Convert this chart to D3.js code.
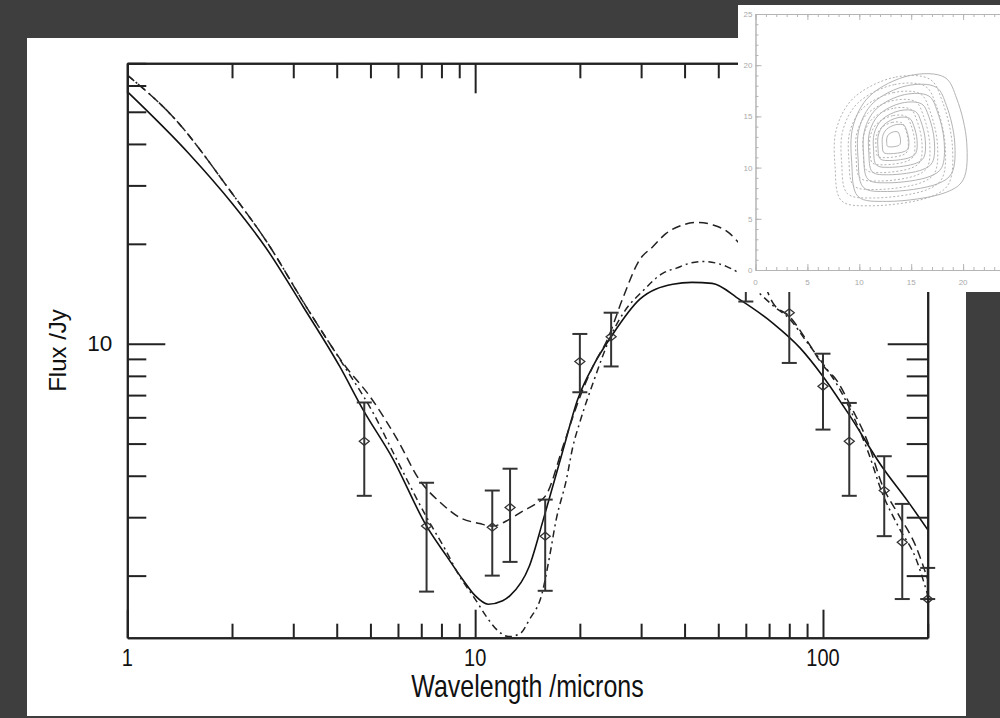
<!DOCTYPE html>
<html>
<head>
<meta charset="utf-8">
<script src="https://cdn.jsdelivr.net/npm/d3@7"></script>
<style>
  body { margin: 0; background: #3e3e3e; }
  svg { display: block; }
  text { font-family: "Liberation Sans", Arial, Helvetica, sans-serif; }
</style>
</head>
<body>
<div id="chart"></div>
<script>
// ---- data ----
// measured points: wavelength (microns), flux (Jy), error bar low / high
const obsLambda = [4.8, 7.25, 11.2, 12.6, 15.9, 20.0, 24.6, 60, 80, 100, 119, 150, 169, 200];
const obsFlux   = [5.08, 2.82, 2.80, 3.21, 2.63, 8.84, 10.5, 15.0, 12.4, 7.44, 5.08, 3.61, 2.52, 1.70];
const obsLow    = [3.48, 1.79, 2.00, 2.20, 1.80, 7.14, 8.54, 13.4, 8.75, 5.51, 3.48, 2.63, 1.70, 1.70];
const obsHigh   = [6.65, 3.81, 3.61, 4.20, 3.39, 10.7, 12.4, 16.8, 15.5, 9.33, 6.63, 4.58, 3.29, 2.11];

// model curves [wavelength, flux]
const modelSolid = [[1,57.5],[1.5,37.5],[2,26.5],[2.5,19.5],[3.2,12.95],[4.08,8.54],[4.76,6.33],[5.8,4.5],
  [7.25,2.82],[8.28,2.29],[9.23,1.94],[10,1.74],[10.9,1.64],[12.0,1.68],[12.6,1.74],[14.3,2.13],[15.7,2.95],
  [17.9,4.79],[19.7,6.78],[22,8.7],[24.6,10.5],[29.7,13.6],[37,15.1],[42,15.3],[48,15.2],[57.5,13.6],
  [72,11.5],[86,9.7],[100,7.97],[119,6.1],[148,4.25],[175,3.36],[200,2.75]];
const modelDashed = [[1,64.5],[1.36,48],[2,28.4],[2.5,20.5],[3.35,12.4],[4.22,8.6],[5,6.9],[6,5.1],[6.9,3.9],
  [8,3.3],[9,3.0],[10.3,2.87],[11.2,2.82],[12.5,2.95],[13.7,3.13],[15,3.3],[16,3.5],[18,5.0],[20,6.9],[22,8.7],
  [24,10.3],[26.5,13.6],[29.7,17.9],[32.4,19.6],[35.4,21.5],[39.6,22.8],[43.6,23.2],[48.3,22.8],[53.9,21.5],
  [56.9,20.3],[65,16.8],[72,13.2],[80,12.1],[90,10.2],[100,8.6],[110,7.7],[120,6.5],[135,5.0],[148,3.75],
  [165,3.05],[185,2.45],[200,1.95]];
const modelDashDot = [[1,64.5],[1.36,48],[2,28.4],[2.5,20.5],[3.35,12.4],[4.22,8.5],[5,6.4],[6,4.4],[7.25,3.0],
  [8.2,2.4],[9,2.0],[10,1.7],[10.8,1.5],[11.5,1.38],[12.5,1.31],[13.5,1.34],[14.3,1.47],[15.6,1.78],[16.3,2.23],
  [17.1,2.95],[18.3,3.9],[19.1,4.9],[20,5.8],[22,7.8],[24.6,10.6],[27,12.6],[30.3,14.4],[34.6,16.3],[37.9,16.9],
  [41.6,17.5],[45.5,17.7],[49.3,17.5],[52.7,17.1],[56.4,16.5],[65.6,14.2],[72,13.0],[80,11.9],[90,10.1],
  [100,8.7],[110,7.5],[120,6.3],[135,4.7],[148,3.55],[165,2.8],[185,2.25],[200,1.75]];

// axis ticks
const xMajorTicks = [1, 10, 100];
const xMinorTicks = [2,3,4,5,6,7,8,9,20,30,40,50,60,70,80,90,200];
const yMajorTicks = [10];
const yMinorTicks = [2,3,4,5,6,7,8,9,20,30,40,50,60,70];

// inset contour map (map units)
const contourOuter = [[18.25,18.8],[14.9,19.0],[11.0,17.0],[9.4,14.05],[9.27,10.5],[9.87,7.19],[12.64,6.7],
  [18.4,7.6],[20.0,8.8],[20.35,12.45],[19.4,16.7]];
const contourCentre = [13.1, 12.75];
const solidLevels = [1, 0.84, 0.7, 0.57, 0.45, 0.34, 0.23, 0.12];
const dottedLevels = [1.02, 0.9, 0.77, 0.64, 0.51, 0.39, 0.28];
const dottedShift = [-1.5, -0.3];
const insetMajorTicks = [0, 5, 10, 15, 20, 25];
const insetXLabels = [0, 5, 10, 15, 20];
const insetMinorTicks = d3.range(0, 26);

// ---- drawing ----
const width = 1000, height = 718;
const svg = d3.select("#chart").append("svg")
    .attr("width", width)
    .attr("height", height);

svg.append("rect").attr("width", width).attr("height", height).attr("fill", "#3e3e3e");
svg.append("rect").attr("x", 27).attr("y", 38).attr("width", 939).attr("height", 678).attr("fill", "#fff");

const plotL = 127.3, plotR = 927.7, plotT = 63.3, plotB = 637.7;
const x = d3.scaleLog().domain([1, 200]).range([plotL, plotR]);
const y = d3.scaleLog().domain([1.3, 70]).range([plotB, plotT]);

svg.append("clipPath").attr("id", "plotclip")
  .append("rect").attr("x", plotL).attr("y", plotT).attr("width", plotR - plotL).attr("height", plotB - plotT);

const line = d3.line()
    .x(d => x(d[0]))
    .y(d => y(d[1]))
    .curve(d3.curveMonotoneX);

const curves = svg.append("g").attr("clip-path", "url(#plotclip)").attr("fill", "none");
curves.append("path").attr("d", line(modelSolid)).attr("stroke", "#111").attr("stroke-width", 1.6);
curves.append("path").attr("d", line(modelDashed)).attr("stroke", "#222").attr("stroke-width", 1.5)
    .attr("stroke-dasharray", "9,5");
curves.append("path").attr("d", line(modelDashDot)).attr("stroke", "#222").attr("stroke-width", 1.5)
    .attr("stroke-dasharray", "7,4,2,4");

// error bars + diamonds
const pts = obsLambda.map((l, i) => ({l: l, f: obsFlux[i], lo: obsLow[i], hi: obsHigh[i]}));
const bars = svg.append("g").attr("stroke", "#333").attr("stroke-width", 2).attr("fill", "none");
bars.selectAll("line.v").data(pts).join("line").attr("class", "v")
    .attr("x1", d => x(d.l)).attr("x2", d => x(d.l))
    .attr("y1", d => y(d.lo)).attr("y2", d => y(d.hi));
bars.selectAll("line.hi").data(pts).join("line").attr("class", "hi")
    .attr("x1", d => x(d.l) - 7.5).attr("x2", d => x(d.l) + 7.5)
    .attr("y1", d => y(d.hi)).attr("y2", d => y(d.hi));
bars.selectAll("line.lo").data(pts).join("line").attr("class", "lo")
    .attr("x1", d => x(d.l) - 7.5).attr("x2", d => x(d.l) + 7.5)
    .attr("y1", d => y(d.lo)).attr("y2", d => y(d.lo));
bars.selectAll("path").data(pts).join("path")
    .attr("stroke-width", 1.3)
    .attr("d", d => {
      const cx = x(d.l), cy = y(d.f);
      return `M${cx - 5},${cy}L${cx},${cy - 4}L${cx + 5},${cy}L${cx},${cy + 4}Z`;
    });

// axes
function styleAxis(g) {
  g.select(".domain").attr("stroke", "#222").attr("stroke-width", 2);
  g.selectAll(".tick line").attr("stroke", "#222").attr("stroke-width", 2);
  g.selectAll(".tick text").attr("fill", "#111").attr("font-size", 22.5);
}
const fmt = d3.format("d");
svg.append("g").attr("transform", `translate(0,${plotB})`)
    .call(d3.axisBottom(x).tickValues(xMajorTicks).tickFormat("").tickSize(-28).tickSizeOuter(0))
    .call(styleAxis);
svg.append("g").attr("transform", `translate(0,${plotB})`)
    .call(d3.axisBottom(x).tickValues(xMinorTicks).tickFormat("").tickSize(-14).tickSizeOuter(0))
    .call(styleAxis);
svg.append("g").attr("transform", `translate(0,${plotT})`)
    .call(d3.axisTop(x).tickValues(xMajorTicks).tickFormat("").tickSize(-30).tickSizeOuter(0))
    .call(styleAxis);
svg.append("g").attr("transform", `translate(0,${plotT})`)
    .call(d3.axisTop(x).tickValues(xMinorTicks).tickFormat("").tickSize(-15).tickSizeOuter(0))
    .call(styleAxis);
svg.append("g").attr("transform", `translate(${plotL},0)`)
    .call(d3.axisLeft(y).tickValues(yMajorTicks).tickFormat(fmt).tickSize(-38).tickSizeOuter(0).tickPadding(15))
    .call(styleAxis);
svg.append("g").attr("transform", `translate(${plotL},0)`)
    .call(d3.axisLeft(y).tickValues(yMinorTicks).tickFormat("").tickSize(-19).tickSizeOuter(0))
    .call(styleAxis);
svg.append("g").attr("transform", `translate(${plotR},0)`)
    .call(d3.axisRight(y).tickValues(yMajorTicks).tickFormat("").tickSize(-40).tickSizeOuter(0))
    .call(styleAxis);
svg.append("g").attr("transform", `translate(${plotR},0)`)
    .call(d3.axisRight(y).tickValues(yMinorTicks).tickFormat("").tickSize(-21).tickSizeOuter(0))
    .call(styleAxis);

// x tick labels (the picture's text is a little taller than it is wide)
svg.append("g").selectAll("text").data(xMajorTicks).join("text")
    .attr("transform", d => `translate(${x(d)},666) scale(1,1.18)`)
    .attr("text-anchor", "middle").attr("font-size", 20).attr("fill", "#111")
    .text(fmt);

svg.append("text").attr("transform", `translate(${(plotL + plotR) / 2},697) scale(1,1.22)`)
    .attr("text-anchor", "middle").attr("font-size", 25).attr("fill", "#111")
    .text("Wavelength /microns");
svg.append("text").attr("transform", `translate(66,${(plotT + plotB) / 2}) rotate(-90)`)
    .attr("text-anchor", "middle").attr("font-size", 24).attr("fill", "#111")
    .text("Flux /Jy");

// ---- inset contour map ----
const inset = svg.append("g");
inset.append("rect").attr("x", 738).attr("y", 5).attr("width", 262).attr("height", 287).attr("fill", "#fff");
const ix = d3.scaleLinear().domain([0, 25]).range([755.5, 1015]);
const iy = d3.scaleLinear().domain([0, 25]).range([270, 14]);

const ring = d3.line().x(d => ix(d[0])).y(d => iy(d[1])).curve(d3.curveCatmullRomClosed.alpha(0.5));
function scaled(s, shift) {
  return contourOuter.map(p => [
    contourCentre[0] + s * (p[0] - contourCentre[0]) + shift[0] * s,
    contourCentre[1] + s * (p[1] - contourCentre[1]) + shift[1] * s
  ]);
}
const rings = inset.append("g").attr("fill", "none").attr("stroke", "#b4b4b4").attr("stroke-width", 1);
rings.selectAll("path.s").data(solidLevels).join("path").attr("class", "s")
    .attr("d", s => ring(scaled(s, [0, 0])));
rings.selectAll("path.d").data(dottedLevels).join("path").attr("class", "d")
    .attr("stroke-dasharray", "2,2")
    .attr("d", s => ring(scaled(s, dottedShift)));

function styleInset(g) {
  g.select(".domain").attr("stroke", "#b5b5b5").attr("stroke-width", 1);
  g.selectAll(".tick line").attr("stroke", "#b5b5b5").attr("stroke-width", 1);
  g.selectAll(".tick text").attr("fill", "#aaa").attr("font-size", 8);
}
inset.append("g").attr("transform", `translate(0,${iy(0)})`)
    .call(d3.axisBottom(ix).tickValues(insetMajorTicks).tickFormat("").tickSize(-6).tickSizeOuter(0))
    .call(styleInset);
inset.append("g").attr("transform", `translate(0,${iy(0)})`)
    .call(d3.axisBottom(ix).tickValues(insetMinorTicks).tickFormat("").tickSize(-3).tickSizeOuter(0))
    .call(styleInset);
inset.append("g").selectAll("text").data(insetXLabels).join("text")
    .attr("x", d => ix(d)).attr("y", iy(0) + 15)
    .attr("text-anchor", "middle").attr("font-size", 8).attr("fill", "#aaa")
    .text(d => d);
inset.append("g").attr("transform", `translate(0,${iy(25)})`)
    .call(d3.axisTop(ix).tickValues(insetMajorTicks).tickFormat("").tickSize(-6).tickSizeOuter(0))
    .call(styleInset);
inset.append("g").attr("transform", `translate(0,${iy(25)})`)
    .call(d3.axisTop(ix).tickValues(insetMinorTicks).tickFormat("").tickSize(-3).tickSizeOuter(0))
    .call(styleInset);
inset.append("g").attr("transform", `translate(${ix(0)},0)`)
    .call(d3.axisLeft(iy).tickValues(insetMajorTicks).tickSize(-6).tickSizeOuter(0).tickPadding(3))
    .call(styleInset);
inset.append("g").attr("transform", `translate(${ix(0)},0)`)
    .call(d3.axisLeft(iy).tickValues(insetMinorTicks).tickFormat("").tickSize(-3).tickSizeOuter(0))
    .call(styleInset);

// dark block lower right
svg.append("rect").attr("x", 966).attr("y", 292).attr("width", 34).attr("height", 426).attr("fill", "#3e3e3e");
</script>
</body>
</html>
